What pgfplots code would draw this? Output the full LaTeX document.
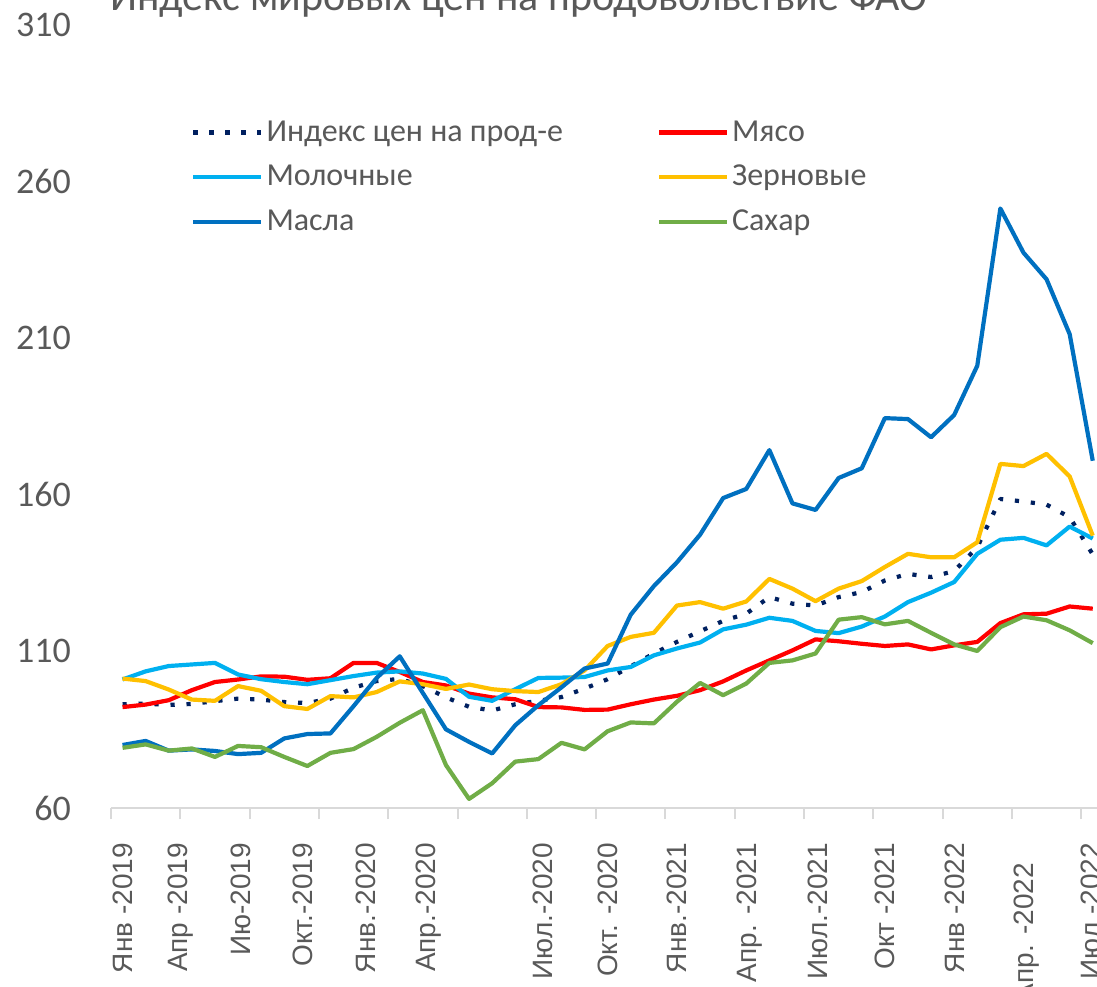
\documentclass[border=0pt]{standalone}
\usepackage{fontspec}
\setmainfont{Carlito}
\newfontfamily\arialfont{Liberation Sans}
\usepackage{pgfplots}
\usepackage{pgfplotstable}
\pgfplotsset{compat=1.18}

\definecolor{txtgrey}{HTML}{595959}
\definecolor{axgrey}{HTML}{D9D9D9}
\definecolor{cIdx}{HTML}{002060}
\definecolor{cMeat}{HTML}{FF0000}
\definecolor{cDairy}{HTML}{00B0F0}
\definecolor{cCereal}{HTML}{FFC000}
\definecolor{cOil}{HTML}{0070C0}
\definecolor{cSugar}{HTML}{70AD47}

% month index (0 = Jan 2019), food index, meat, dairy, cereals, oils, sugar
\pgfplotstableread{
i  idx   meat  dairy cereal oil   sugar
0  93.1  92.2  101.0 101.3  80.1  79.2
1  93.3  93.0  103.6 100.5  81.4  80.3
2  92.9  94.4  105.3 97.8   78.3  78.3
3  93.2  97.6  105.8 94.6   78.7  79.0
4  94.1  100.2 106.3 94.2   78.2  76.3
5  94.9  101.0 102.6 98.9   77.2  79.8
6  94.6  102.0 101.1 97.4   77.6  79.4
7  93.8  101.9 100.2 92.5   82.2  76.3
8  93.5  100.9 99.5  91.6   83.6  73.4
9  94.9  101.4 100.8 95.7   83.8  77.6
10 98.4  106.3 102.1 95.3   92.5  78.8
11 100.5 106.3 103.2 97.0   101.5 82.7
12 101.2 103.4 103.6 100.4  108.4 87.2
13 98.9  100.2 102.9 99.5   96.7  91.2
14 95.3  99.1  101.2 98.0   85.1  73.7
15 92.3  96.5  95.5  99.4   81.1  62.9
16 91.1  95.3  94.2  97.9   77.4  67.9
17 93.1  94.7  97.9  97.3   86.4  74.8
18 94.2  92.2  101.5 97.0   92.8  75.6
19 95.4  92.1  101.6 99.5   98.5  80.8
20 98.1  91.3  101.8 103.9  104.5 78.7
21 101.1 91.4  103.9 111.7  106.1 84.5
22 105.2 93.1  105.0 114.6  121.7 87.3
23 109.3 94.6  108.7 115.9  130.8 87.0
24 113.0 95.8  110.9 124.6  138.4 93.9
25 116.4 97.6  112.8 125.7  147.2 99.9
26 119.7 100.4 117.0 123.6  158.9 96.0
27 122.0 103.9 118.5 125.9  161.8 99.7
28 127.3 107.1 120.7 133.1  174.2 106.3
29 125.2 110.3 119.7 130.0  157.2 107.1
30 124.6 113.8 116.5 126.0  155.1 109.3
31 127.3 113.2 115.8 130.0  165.3 120.1
32 128.9 112.4 117.9 132.4  168.4 120.9
33 132.6 111.7 121.1 136.9  184.4 118.6
34 134.7 112.2 125.7 141.1  184.1 119.7
35 133.7 110.6 128.7 140.0  178.3 115.9
36 135.6 111.9 132.1 140.0  185.4 112.2
37 143.2 113.0 141.1 144.8  201.1 110.1
38 158.6 119.0 145.6 169.8  251.3 117.7
39 157.8 121.8 146.2 169.1  237.2 121.1
40 156.8 122.0 143.8 173.0  228.7 119.9
41 152.8 124.3 149.8 165.8  211.2 116.7
42 140.9 123.6 146.0 146.9  170.8 112.6
}\data

\begin{document}
\begin{tikzpicture}
\useasboundingbox (0,0) rectangle (548.5pt,493pt);
\clip (0,0) rectangle (548.5pt,493pt);
\node[anchor=base west, inner sep=0pt, text=txtgrey,
  font=\fontsize{21}{25}\selectfont] at (55pt,487.5pt)
  {Индекс мировых цен на продовольствие ФАО};
\begin{axis}[
  scale only axis,
  width=496.65pt, height=391.75pt,
  at={(55.5pt,89pt)}, anchor=south west,
  xmin=-0.5, xmax=42.5,
  ymin=60, ymax=310,
  axis x line*=bottom, axis y line*=left,
  x axis line style={draw=axgrey, line width=1pt},
  y axis line style={draw=none},
  ytick={60,110,160,210,260,310},
  ytick style={draw=none},
  yticklabel style={font=\fontsize{18}{21}\selectfont, text=txtgrey, xshift=-11pt},
  /pgf/number format/assume math mode=true,
  xtick={-0.5,2.5,...,41.5},
  xticklabels={},
  tick align=outside,
  major tick length=5.5pt,
  xtick style={draw=axgrey, line width=1pt},
  extra x ticks={0,2.4,5.1,7.8,10.5,13.1,18.2,21,24,27,30.1,33,36,39,41.9},
  extra x tick labels={Янв -2019,Апр -2019,Ию-2019,Окт.-2019,Янв.-2020,Апр.-2020,
    Июл.-2020,Окт. -2020,Янв.-2021,Апр. -2021,Июл.-2021,Окт -2021,Янв -2022,
    {Апр. -2022\hspace*{10pt}},Июл -2022},
  extra x tick style={major tick length=0pt},
  xticklabel style={yshift=-14pt, rotate=90, anchor=east, text=txtgrey,
    font=\arialfont\fontsize{14}{16}\selectfont,
    text height=10pt, text depth=0pt},
  legend columns=2,
  legend cell align=left,
  legend image code/.code={\draw[#1] (0pt,0pt) -- (34pt,0pt);},
  legend style={at={(axis cs:2.7,282)}, anchor=north west, draw=none, fill=none,
    font=\fontsize{16}{19}\selectfont, text=txtgrey,
    column sep=-0.5pt, row sep=6.5pt, /tikz/column 2/.style={column sep=45pt}},
  every axis plot/.append style={line width=2.1pt, line join=round},
]
\addplot[cIdx, dash pattern=on 2.1pt off 5.9pt] table[x=i, y=idx] {\data};
\addlegendentry{Индекс цен на прод-е}
\addplot[cMeat] table[x=i, y=meat] {\data};
\addlegendentry{Мясо}
\addplot[cDairy] table[x=i, y=dairy] {\data};
\addlegendentry{Молочные}
\addplot[cCereal] table[x=i, y=cereal] {\data};
\addlegendentry{Зерновые}
\addplot[cOil] table[x=i, y=oil] {\data};
\addlegendentry{Масла}
\addplot[cSugar] table[x=i, y=sugar] {\data};
\addlegendentry{Сахар}
\end{axis}
\end{tikzpicture}
\end{document}
